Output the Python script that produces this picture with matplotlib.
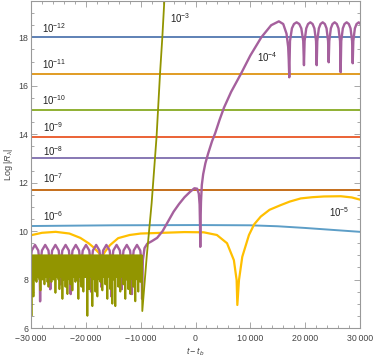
import numpy as np
import matplotlib
matplotlib.use("Agg")
import matplotlib.pyplot as plt
from matplotlib.ticker import MultipleLocator, FixedLocator

plt.rcParams['font.family'] = ['Liberation Sans', 'DejaVu Sans']
plt.rcParams['mathtext.fontset'] = 'custom'
plt.rcParams['mathtext.rm'] = 'Liberation Sans'
plt.rcParams['mathtext.it'] = 'Liberation Sans:italic'

# ---- data ----
flat_t = [-30000, 30000]
flat_names = ["1e-12", "1e-11", "1e-10", "1e-9", "1e-8", "1e-7"]
flat_vals = [18.0, 16.5, 15.0, 13.88, 13.0, 11.69]

# 10^-6 (slow drift)
blue_t = [-30000, -15000, 0, 10000, 15000, 20000, 25000, 30000]
blue_y = [10.21, 10.24, 10.25, 10.24, 10.2, 10.13, 10.05, 9.97]

# 10^-5
yellow_t = [-30000, -28000, -25500, -23000, -21000, -19500, -18600, -17700, -17300, -17100,
            -16900, -16500, -15600, -14100, -12000, -10000, -6000, -2000, 1500, 3900,
            5750, 7000, 7500, 7630, 7930, 8530, 9750, 10700, 11900, 13500, 15500, 17200,
            19200, 21300, 23400, 26500, 28500, 30000]
yellow_y = [9.83, 9.93, 9.97, 9.9, 9.72, 9.5, 9.33, 9.12, 9.0, 8.92,
            9.0, 9.15, 9.42, 9.71, 9.84, 9.9, 9.93, 9.96, 9.95, 9.84,
            9.5, 8.8, 7.98, 6.95, 7.98, 8.94, 9.84, 10.28, 10.6, 10.88, 11.07, 11.22,
            11.35, 11.4, 11.43, 11.44, 11.39, 11.3]

# 10^-4
purple_t = [-30200, -30107, -29865, -29270, -28675, -28433,
            -28340, -28247, -28005, -27410, -26815, -26573,
            -26480, -26387, -26145, -25550, -24955, -24713,
            -24620, -24527, -24285, -23690, -23095, -22853,
            -22760, -22667, -22425, -21830, -21235, -20993,
            -20900, -20807, -20565, -19970, -19375, -19133,
            -19040, -18947, -18705, -18110, -17515, -17273,
            -17180, -17087, -16845, -16250, -15655, -15413,
            -15320, -15227, -14985, -14390, -13795, -13553,
            -13460, -13367, -13125, -12530, -11935, -11693,
            -11600, -11507, -11265, -10670, -10075, -9833,
            -9740, -9600, -9300, -8800, -8000, -7000, -6000, -5000, -4000, -3000,
            -2000, -1000, -200, 300, 600, 750, 830, 870, 910, 1000, 1150, 1400,
            1800, 2300, 3000, 3600, 4400, 5200, 6500, 8300, 10000, 12000, 13800,
            15200, 16000, 16600, 16900, 17000,
            17100, 17234, 17582, 17958, 18440, 18922, 19298, 19646,
            19780, 19896, 20198, 20522, 20940, 21358, 21682, 21984,
            22100, 22210, 22494, 22801, 23195, 23589, 23896, 24180,
            24290, 24399, 24682, 24988, 25380, 25772, 26078, 26361,
            26470, 26580, 26866, 27174, 27570, 27966, 28274, 28560,
            28670, 28780, 29066, 29374, 29770, 30000]
purple_y = [8.0, 8.7, 9.2, 9.43, 9.2, 8.7,
            7.1, 8.7, 9.2, 9.43, 9.2, 8.7,
            7.6, 8.7, 9.2, 9.43, 9.2, 8.7,
            7.8, 8.7, 9.2, 9.43, 9.2, 8.7,
            7.4, 8.7, 9.2, 9.43, 9.2, 8.7,
            7.9, 8.7, 9.2, 9.43, 9.2, 8.7,
            7.5, 8.7, 9.2, 9.43, 9.2, 8.7,
            7.7, 8.7, 9.2, 9.43, 9.2, 8.7,
            7.3, 8.7, 9.2, 9.43, 9.2, 8.7,
            7.6, 8.7, 9.2, 9.43, 9.2, 8.7,
            7.4, 8.7, 9.2, 9.43, 9.2, 8.7,
            7.2, 8.8, 9.3, 9.48, 9.58, 9.72, 10.0, 10.4, 10.8, 11.12,
            11.4, 11.62, 11.77, 11.75, 11.55, 11.1, 10.2, 9.35, 10.3, 11.2, 11.9, 12.35,
            12.8, 13.2, 13.7, 14.05, 14.6, 15.1, 15.75, 16.5, 17.25, 18.0, 18.5,
            18.66, 18.55, 18.15, 17.6, 17.1,
            16.35, 17.85, 18.37, 18.55, 18.62, 18.55, 18.37, 17.85,
            16.85, 17.85, 18.37, 18.55, 18.62, 18.55, 18.37, 17.85,
            16.85, 17.85, 18.37, 18.55, 18.62, 18.55, 18.37, 17.85,
            16.97, 17.85, 18.37, 18.55, 18.62, 18.55, 18.37, 17.85,
            16.56, 17.85, 18.37, 18.55, 18.62, 18.55, 18.37, 17.85,
            16.93, 17.85, 18.37, 18.55, 18.62, 18.57]

# 10^-3: fast oscillation (tops near 9.0, lows listed), then the steep rise
olive_top = 9.0
olive_lows = [6.5, 8.1, 7.3, 8.2, 8.0, 7.9, 8.3, 8.1, 8.0, 7.55,
              8.2, 8.0, 8.3, 7.8, 8.1, 8.2, 7.9, 7.7, 8.3, 8.1,
              7.9, 8.2, 8.0, 8.3, 7.45, 8.1, 8.2, 8.0, 7.6, 8.3,
              8.1, 7.2, 8.0, 8.2, 7.7, 8.3, 7.4, 8.1, 8.0, 7.8,
              8.2, 7.55, 8.1, 8.3, 7.9, 8.0, 8.2, 7.2, 8.1, 8.3,
              7.7, 8.0, 7.5, 8.2, 8.1, 8.3, 6.5, 8.0, 7.6, 8.2,
              8.1, 6.9, 8.3, 8.0, 7.5, 8.2, 7.3, 8.1, 8.0, 7.9,
              8.3, 7.55, 8.1, 8.2, 7.8, 8.0, 7.2, 8.3, 8.1, 7.6,
              8.2, 7.0, 8.0, 8.3, 6.9, 8.1, 8.2, 7.7, 8.0, 7.5,
              8.3, 8.1, 7.8, 8.2, 7.2, 8.0, 8.1, 7.6, 8.3, 7.4,
              8.2, 8.0, 7.7, 8.1, 7.1, 8.3, 8.0, 7.5, 8.2, 7.9,
              8.1, 6.7]
olive_rise_t = [-8900, -8000, -7100, -6470, -6050, -5690, -5500]
olive_rise_y = [8.94, 11.15, 13.9, 16.5, 18.0, 19.5, 20.2]

x_ticks = [-30000, -20000, -10000, 0, 10000, 20000, 30000]
x_ticklabels = ["\u221230\u2009000", "\u221220\u2009000", "\u221210\u2009000", "0",
                "10\u2009000", "20\u2009000", "30\u2009000"]
y_ticks = [6, 8, 10, 12, 14, 16, 18]

colors_flat = ["#5E81B5", "#E19C24", "#8FB032", "#EB6235", "#8778B3", "#C56E1A"]
c_blue, c_yellow, c_purple, c_olive = "#5D9EC7", "#FFBF00", "#A5609D", "#929500"

fig = plt.figure(figsize=(3.74, 3.6), dpi=100)
ax = fig.add_axes([31 / 374, 32 / 360, 329 / 374, 327 / 360])

for v, c in zip(flat_vals, colors_flat):
    ax.plot(flat_t, [v, v], color=c, lw=1.4)
ax.plot(blue_t, blue_y, color=c_blue, lw=1.4)
ax.plot(yellow_t, yellow_y, color=c_yellow, lw=1.6)
ax.plot(purple_t, purple_y, color=c_purple, lw=1.7, solid_joinstyle='round')

n = len(olive_lows)
ot = np.linspace(-30000, -9700, 2 * n)
oy = np.empty(2 * n)
oy[0::2] = olive_top
oy[1::2] = olive_lows
ax.plot(list(ot) + olive_rise_t, list(oy) + olive_rise_y, color=c_olive, lw=1.3)

# curve labels
labels = [("$10^{-12}$", -28000, 18.4), ("$10^{-11}$", -28000, 16.9),
          ("$10^{-10}$", -28000, 15.4), ("$10^{-9}$", -27800, 14.3),
          ("$10^{-8}$", -27800, 13.3), ("$10^{-7}$", -27800, 12.2),
          ("$10^{-6}$", -27800, 10.6), ("$10^{-5}$", 24300, 10.8),
          ("$10^{-4}$", 11200, 17.2), ("$10^{-3}$", -4700, 18.8)]
for s, x, y in labels:
    ax.text(x, y, s, fontsize=7, color="#222222", ha="left", va="center")

ax.set_xlim(-30000, 30000)
ax.set_ylim(6, 19.5)
ax.xaxis.set_major_locator(FixedLocator(x_ticks))
ax.set_xticklabels(x_ticklabels)
ax.xaxis.set_minor_locator(MultipleLocator(2000))
ax.yaxis.set_major_locator(FixedLocator(y_ticks))
ax.yaxis.set_minor_locator(MultipleLocator(0.5))
ax.tick_params(which="both", direction="in", top=True, right=True, color="#999999",
               labelsize=6.3, labelcolor="#444444", width=0.6)
ax.tick_params(axis="x", pad=4)
ax.tick_params(axis="y", pad=2)
ax.tick_params(which="major", length=4)
ax.tick_params(which="minor", length=2.2)
for sp in ax.spines.values():
    sp.set_color("#999999")
    sp.set_linewidth(0.8)

ax.set_xlabel("$t\u2212t_b$", fontsize=6.5, color="#444444", labelpad=2)
ax.set_ylabel("Log $|R_\\lambda|$", fontsize=6.5, color="#444444", labelpad=2)

plt.savefig("out.png", dpi=100)
